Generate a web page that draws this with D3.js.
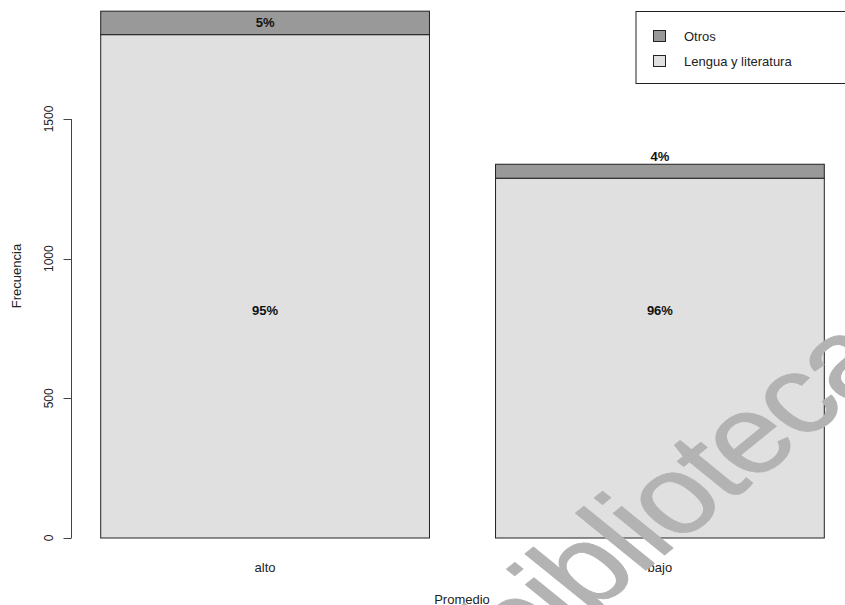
<!DOCTYPE html>
<html><head><meta charset="utf-8">
<script src="https://cdn.jsdelivr.net/npm/d3@7"></script>
<style>html,body{margin:0;padding:0;background:#fff;}svg{display:block;font-family:"Liberation Sans",Arial,Helvetica,sans-serif;}</style>
</head><body>
<script>
const categories = ["alto", "bajo"];
const seriesNames = ["Otros", "Lengua y literatura"];
const lenguaValues = [1802, 1288];
const otrosValues = [84, 50];
const lenguaPct = ["95%", "96%"];
const otrosPct = ["5%", "4%"];
const yTicks = [0, 500, 1000, 1500];
const innerLabelValue = 813;

const W = 845, H = 605;
const colors = {"Otros": "#999999", "Lengua y literatura": "#e0e0e0"};

const svg = d3.select("body").append("svg").attr("width", W).attr("height", H);

const x = d3.scaleBand().domain(categories).range([100.7, 824.3]).paddingInner(0.1673).paddingOuter(0);
const y = d3.scaleLinear().domain([0, 1500]).range([538, 119]);

const data = categories.map((c, i) => ({cat: c, lengua: lenguaValues[i], otros: otrosValues[i], pl: lenguaPct[i], po: otrosPct[i]}));

// bars
const g = svg.append("g");
g.selectAll("rect.lengua").data(data).join("rect")
  .attr("x", d => x(d.cat)).attr("width", x.bandwidth())
  .attr("y", d => y(d.lengua)).attr("height", d => y(0) - y(d.lengua))
  .attr("fill", colors["Lengua y literatura"]).attr("stroke", "#222").attr("stroke-width", 1);
g.selectAll("rect.otros").data(data).join("rect")
  .attr("x", d => x(d.cat)).attr("width", x.bandwidth())
  .attr("y", d => y(d.lengua + d.otros)).attr("height", d => y(d.lengua) - y(d.lengua + d.otros))
  .attr("fill", colors["Otros"]).attr("stroke", "#222").attr("stroke-width", 1);

// labels
g.selectAll("text.pl").data(data).join("text")
  .attr("x", d => x(d.cat) + x.bandwidth() / 2).attr("y", y(innerLabelValue))
  .attr("text-anchor", "middle").attr("dominant-baseline", "central")
  .attr("font-size", 13).attr("font-weight", "bold").attr("fill", "#111").text(d => d.pl);
g.selectAll("text.po").data(data).join("text")
  .attr("x", d => x(d.cat) + x.bandwidth() / 2)
  .attr("y", d => {
    const top = y(d.lengua + d.otros);
    return (top - 8 < 18) ? (top + y(d.lengua)) / 2 : top - 8;
  })
  .attr("text-anchor", "middle").attr("dominant-baseline", "central")
  .attr("font-size", 13).attr("font-weight", "bold").attr("fill", "#111").text(d => d.po);

// y axis
const ax = svg.append("g").attr("transform", "translate(71.5,0)");
ax.append("line").attr("x1", 0).attr("x2", 0).attr("y1", y(0)).attr("y2", y(1500)).attr("stroke", "#444");
ax.selectAll("line.tick").data(yTicks).join("line")
  .attr("x1", -8).attr("x2", 0).attr("y1", d => Math.round(y(d)) + 0.5).attr("y2", d => Math.round(y(d)) + 0.5).attr("stroke", "#444");
ax.selectAll("text").data(yTicks).join("text")
  .attr("transform", d => `translate(-23,${y(d)}) rotate(-90)`)
  .attr("text-anchor", "middle").attr("dominant-baseline", "central")
  .attr("font-size", 12).attr("fill", "#222").text(d => d);

// x category labels
svg.selectAll("text.cat").data(categories).join("text")
  .attr("x", d => x(d) + x.bandwidth() / 2).attr("y", 567)
  .attr("text-anchor", "middle").attr("dominant-baseline", "central")
  .attr("font-size", 13).attr("fill", "#222").text(d => d);

svg.append("text").attr("x", 462).attr("y", 599).attr("text-anchor", "middle").attr("dominant-baseline", "central")
  .attr("font-size", 13).attr("fill", "#222").text("Promedio");
svg.append("text").attr("transform", "translate(16,276) rotate(-90)").attr("text-anchor", "middle").attr("dominant-baseline", "central")
  .attr("font-size", 13).attr("fill", "#222").text("Frecuencia");

// legend
const lg = svg.append("g");
lg.append("rect").attr("x", 636).attr("y", 11.5).attr("width", 220).attr("height", 72).attr("fill", "#fff").attr("stroke", "#222");
lg.selectAll("rect.sw").data(seriesNames).join("rect")
  .attr("x", 653.5).attr("y", (d, i) => 30.5 + i * 25).attr("width", 12).attr("height", 11)
  .attr("fill", d => colors[d]).attr("stroke", "#222");
lg.selectAll("text").data(seriesNames).join("text")
  .attr("x", 684).attr("y", (d, i) => 36 + i * 25).attr("dominant-baseline", "central")
  .attr("font-size", 13).attr("fill", "#222").text(d => d);

// watermark
svg.append("text").attr("transform", "translate(520,672) rotate(-39) skewX(12)")
  .attr("font-family", "'Liberation Sans', Arial, sans-serif")
  .attr("font-size", 122).attr("letter-spacing", -3).attr("fill", "#b3b3b3")
  .attr("stroke", "#b3b3b3").attr("stroke-width", 1).attr("stroke-linejoin", "round")
  .text("bibliotecas");
</script>
</body></html>
